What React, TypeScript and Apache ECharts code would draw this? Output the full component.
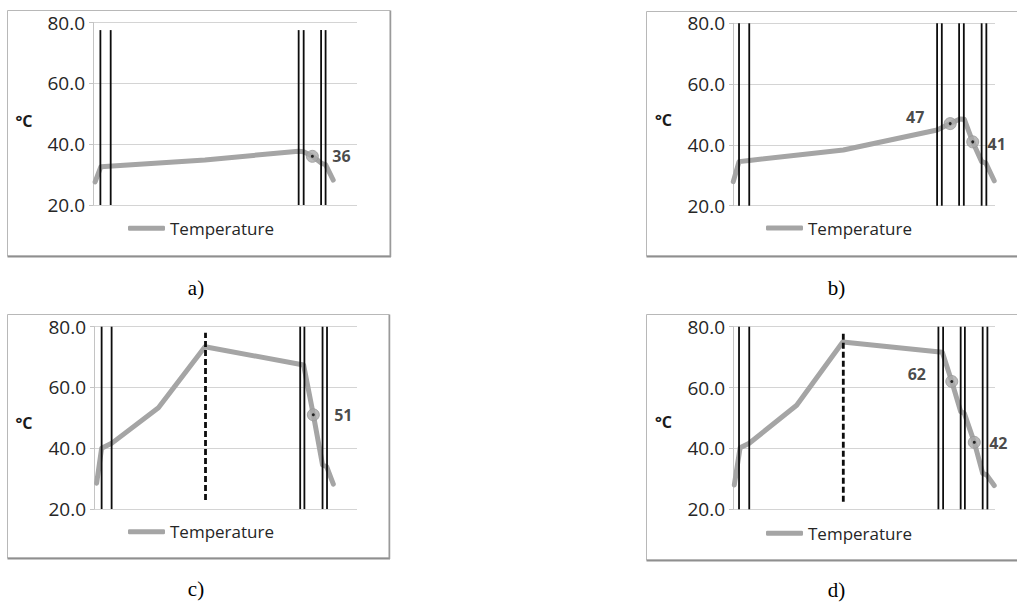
import React, { useEffect, useRef } from "react";
import * as echarts from "echarts";

// ---- data (x = position across the section, % of axis width; y = °C) ----
const yTicks = [20, 40, 60, 80];
const seriesName = "Temperature";
const captions = ["a)", "b)", "c)", "d)"];

// panel a
const tempAX = [0.8, 3.0, 42.4, 77.8, 79.8, 83.1, 86.6, 88.1, 91.0];
const tempAY = [27.6, 32.6, 34.8, 37.7, 37.5, 36, 33.7, 33.3, 28.2];
const layersA = [2.8, 6.7, 77.9, 79.8, 86.4, 88.1];
const layerTopA = 77.5;
const markerAX = [83.1];
const markerAV = [36];
const dashA: number[] = [];

// panel b
const tempBX = [0.1, 2.3, 6.2, 42.1, 77.9, 82.9, 86.6, 88.3, 91.5, 94.9, 96.5, 99.7];
const tempBY = [27.9, 34.5, 34.9, 38.3, 44.9, 47, 48.5, 48.4, 41, 34.5, 34.0, 28.2];
const layersB = [2.3, 6.2, 77.9, 79.7, 86.3, 88.1, 94.9, 96.7];
const layerTopB = 80;
const markerBX = [82.9, 91.5];
const markerBV = [47, 41];
const dashB: number[] = [];

// panel c
const tempCX = [1.0, 2.9, 6.7, 24.5, 42.2, 79.7, 83.4, 86.9, 88.5, 91.0];
const tempCY = [28.5, 40.0, 41.6, 53.3, 73.4, 67.4, 51, 34.5, 33.9, 28.2];
const layersC = [2.9, 6.7, 78.4, 80.0, 86.9, 88.6];
const layerTopC = 80;
const markerCX = [83.4];
const markerCV = [51];
const dashC = [42.4, 23, 78];

// panel d
const tempDX = [0.5, 2.7, 6.2, 24.3, 41.9, 79.9, 83.5, 86.9, 88.3, 92.1, 95.3, 96.8, 99.7];
const tempDY = [28.0, 40.2, 41.7, 54.2, 75.0, 71.6, 62, 52.1, 51.5, 42, 31.8, 31.3, 27.8];
const layersD = [2.3, 6.2, 78.4, 80.2, 86.9, 88.5, 95.3, 97.1];
const layerTopD = 80;
const markerDX = [83.5, 92.1];
const markerDV = [62, 42];
const dashD = [42.1, 22.5, 78.3];

// ---- layout / style ----
const FONT = "Open Sans";
const GREY = "#a5a5a5";
const TEXT = "#262626";

const panels = [
  {
    tx: tempAX, ty: tempAY, layers: layersA, layerTop: layerTopA, mx: markerAX, mv: markerAV, dash: dashA,
    grid: { left: 93, top: 22.5, width: 264, height: 182.5 },
    labelOffsets: [[29, 0]],
    legend: { left: 128, top: 219.8 },
    box: { x: 7.5, y: 10.5, w: 382.5, h: 245.5 },
    unit: { x: 24, y: 121 },
    caption: { x: 196, y: 287.5 },
  },
  {
    tx: tempBX, ty: tempBY, layers: layersB, layerTop: layerTopB, mx: markerBX, mv: markerBV, dash: dashB,
    grid: { left: 733, top: 23.3, width: 262, height: 182.4 },
    labelOffsets: [[-35, -7], [24, 2]],
    legend: { left: 766, top: 219.5 },
    box: { x: 646.5, y: 11.5, w: 382.5, h: 244.5 },
    unit: { x: 663.5, y: 119.5 },
    caption: { x: 836.5, y: 287.5 },
  },
  {
    tx: tempCX, ty: tempCY, layers: layersC, layerTop: layerTopC, mx: markerCX, mv: markerCV, dash: dashC,
    grid: { left: 94, top: 326.7, width: 263, height: 182.3 },
    labelOffsets: [[30, 0]],
    legend: { left: 128, top: 523.2 },
    box: { x: 7.5, y: 314.5, w: 381.5, h: 243.5 },
    unit: { x: 24, y: 423 },
    caption: { x: 196, y: 589 },
  },
  {
    tx: tempDX, ty: tempDY, layers: layersD, layerTop: layerTopD, mx: markerDX, mv: markerDV, dash: dashD,
    grid: { left: 733, top: 326.7, width: 262, height: 182.6 },
    labelOffsets: [[-35, -7], [24, 1]],
    legend: { left: 766, top: 524.8 },
    box: { x: 646.5, y: 314.5, w: 382.5, h: 245.5 },
    unit: { x: 663.5, y: 421.7 },
    caption: { x: 836.5, y: 590 },
  },
];

function buildOption() {
  const grid: any[] = [];
  const xAxis: any[] = [];
  const yAxis: any[] = [];
  const series: any[] = [];
  const legend: any[] = [];
  const graphic: any[] = [];

  panels.forEach((p, i) => {
    grid.push({ ...p.grid, containLabel: false });
    xAxis.push({
      type: "value", gridIndex: i, min: 0, max: 100, show: false,
      splitLine: { show: false },
    });
    yAxis.push({
      type: "value", gridIndex: i, min: yTicks[0], max: yTicks[yTicks.length - 1], interval: 20,
      axisLine: { show: true, lineStyle: { color: "#c4c4c4", width: 1 } },
      axisTick: { show: true, length: 4, lineStyle: { color: "#c4c4c4" } },
      axisLabel: {
        margin: 8, fontSize: 19, fontFamily: FONT, color: TEXT,
        formatter: (v: number) => v.toFixed(1),
      },
      splitLine: { show: true, lineStyle: { color: "#d4d4d4", width: 1 } },
    });

    // temperature line
    series.push({
      name: seriesName, type: "line", xAxisIndex: i, yAxisIndex: i,
      data: p.tx.map((x, k) => [x, p.ty[k]]),
      symbol: "none", z: 2, silent: true,
      lineStyle: { color: GREY, width: 5, cap: "round", join: "round" },
      itemStyle: { color: GREY },
    });

    // layer boundary lines (solid) and dashed line
    const vlines: number[][] = p.layers.map((x) => [x, yTicks[0], p.layerTop, 0]);
    if (p.dash.length) vlines.push([p.dash[0], p.dash[1], p.dash[2], 1]);
    series.push({
      type: "custom", xAxisIndex: i, yAxisIndex: i, z: 3, silent: true,
      data: vlines,
      encode: { x: 0, y: [1, 2] },
      renderItem: (_params: any, api: any) => {
        const x = api.value(0);
        const a = api.coord([x, api.value(1)]);
        const b = api.coord([x, api.value(2)]);
        const dashed = api.value(3) === 1;
        return {
          type: "line",
          shape: { x1: a[0], y1: a[1], x2: b[0], y2: b[1] },
          style: {
            stroke: "#0d0d0d",
            lineWidth: dashed ? 2.8 : 1.8,
            lineDash: dashed ? [6, 3] : null,
          },
        };
      },
    });

    // markers with labels
    series.push({
      type: "scatter", xAxisIndex: i, yAxisIndex: i, z: 4, silent: true,
      symbol: "circle", symbolSize: 12,
      itemStyle: { color: "#a9a9a9", borderColor: "#999999", borderWidth: 1 },
      data: p.mx.map((x, k) => ({
        value: [x, p.mv[k]],
        label: {
          show: true, position: "inside", offset: p.labelOffsets[k],
          formatter: String(p.mv[k]),
          fontSize: 16, fontWeight: "bold", fontFamily: FONT, color: "#1a1a1a",
        },
      })),
    });
    series.push({
      type: "scatter", xAxisIndex: i, yAxisIndex: i, z: 5, silent: true,
      symbol: "circle", symbolSize: 3,
      itemStyle: { color: "#000" },
      data: p.mx.map((x, k) => [x, p.mv[k]]),
    });

    legend.push({
      data: [seriesName], left: p.legend.left, top: p.legend.top, padding: 0,
      icon: "roundRect", itemWidth: 37, itemHeight: 5, selectedMode: false,
      itemStyle: { color: GREY },
      textStyle: { fontSize: 17, fontFamily: FONT, color: TEXT },
    });

    // frame
    graphic.push({
      type: "rect", silent: true, z: -10,
      shape: { x: p.box.x, y: p.box.y, width: p.box.w, height: p.box.h },
      style: { fill: "#fff", stroke: "#b8b8b8", lineWidth: 1 },
    });
    graphic.push({
      type: "line", silent: true, z: -9,
      shape: { x1: p.box.x, y1: p.box.y + p.box.h + 0.5, x2: p.box.x + p.box.w + 1, y2: p.box.y + p.box.h + 0.5 },
      style: { stroke: "#8f8f8f", lineWidth: 2 },
    });
    graphic.push({
      type: "line", silent: true, z: -9,
      shape: { x1: p.box.x + p.box.w + 0.5, y1: p.box.y, x2: p.box.x + p.box.w + 0.5, y2: p.box.y + p.box.h + 1 },
      style: { stroke: "#9a9a9a", lineWidth: 1.5 },
    });
    // unit
    graphic.push({
      type: "text", silent: true, x: p.unit.x, y: p.unit.y,
      style: {
        text: "°C", fontSize: 16, fontWeight: "bold", fontFamily: FONT, fill: "#1a1a1a",
        align: "center", verticalAlign: "middle",
      },
    });
    // caption
    graphic.push({
      type: "text", silent: true, x: p.caption.x, y: p.caption.y,
      style: {
        text: captions[i], fontSize: 21, fontFamily: "Liberation Serif", fill: "#000",
        align: "center", verticalAlign: "middle",
      },
    });
  });

  return {
    animation: false,
    backgroundColor: "#ffffff",
    grid, xAxis, yAxis, series, legend, graphic,
  };
}

export default function App() {
  const ref = useRef<HTMLDivElement>(null);
  useEffect(() => {
    if (!ref.current) return;
    const chart = echarts.init(ref.current, undefined, { renderer: "svg" });
    chart.setOption(buildOption() as any);
    return () => chart.dispose();
  }, []);
  return (
    <div
      ref={ref}
      style={{ position: "absolute", left: 0, top: 0, width: 1017, height: 603, background: "#fff" }}
    />
  );
}
